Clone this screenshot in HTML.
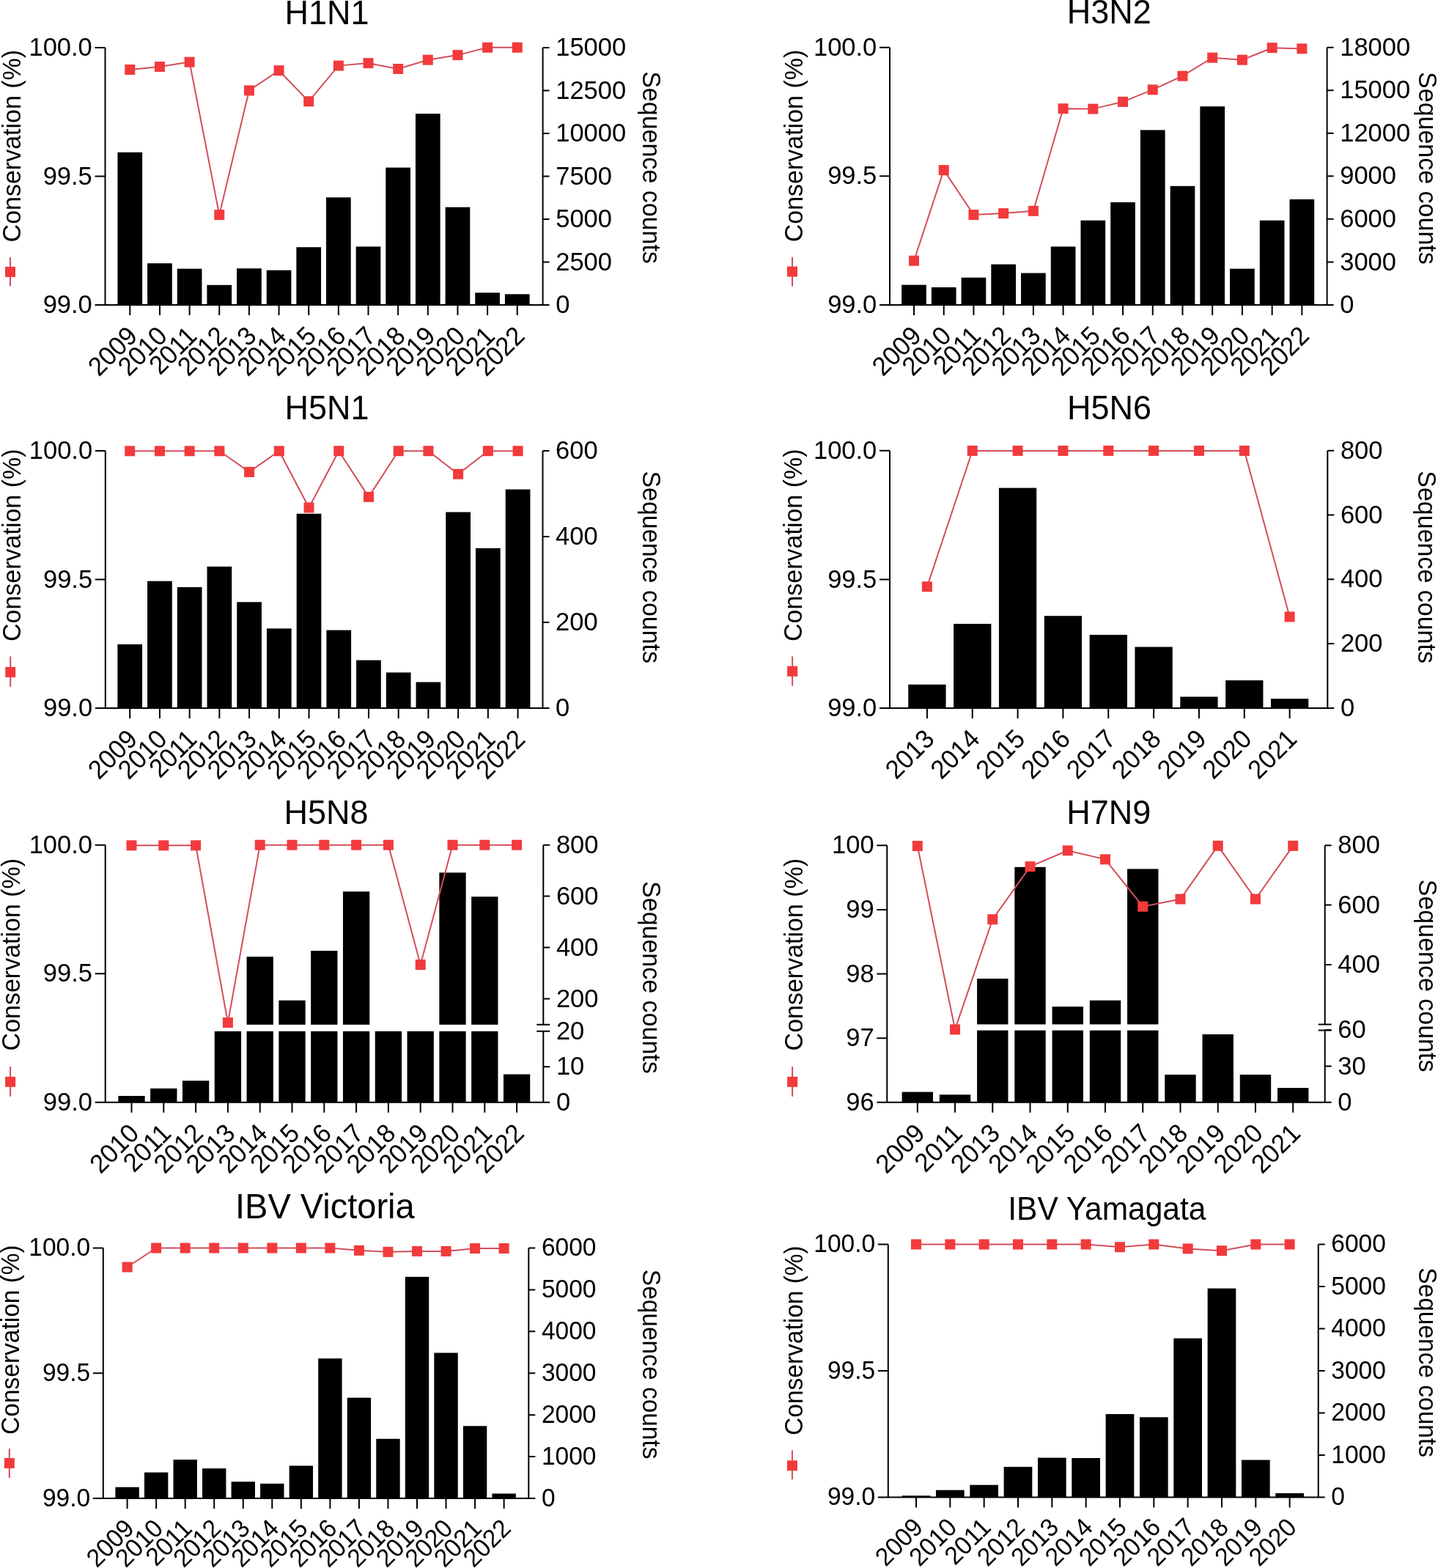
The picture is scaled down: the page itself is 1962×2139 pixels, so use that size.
<!DOCTYPE html>
<html><head><meta charset="utf-8"><title>Conservation and sequence counts</title>
<style>html,body{margin:0;padding:0;background:#fff;overflow:hidden;}svg{display:block;}text{font-family:'Liberation Sans', Arial, Helvetica, sans-serif;fill:#000;}</style>
</head><body>
<svg width="1962" height="2139" viewBox="0 0 1962 2139">
<rect width="1962" height="2139" fill="#fff"/>
<rect x="160.45" y="207.8" width="33.7" height="208.2"/>
<rect x="201.1" y="359.2" width="33.7" height="56.8"/>
<rect x="241.75" y="366.6" width="33.7" height="49.4"/>
<rect x="282.4" y="388.8" width="33.7" height="27.2"/>
<rect x="323.05" y="366.2" width="33.7" height="49.8"/>
<rect x="363.7" y="368.6" width="33.7" height="47.4"/>
<rect x="404.35" y="337.2" width="33.7" height="78.8"/>
<rect x="445" y="269.3" width="33.7" height="146.7"/>
<rect x="485.65" y="336.4" width="33.7" height="79.6"/>
<rect x="526.3" y="228.6" width="33.7" height="187.4"/>
<rect x="566.95" y="155.1" width="33.7" height="260.9"/>
<rect x="607.6" y="282.6" width="33.7" height="133.4"/>
<rect x="648.25" y="399.3" width="33.7" height="16.7"/>
<rect x="688.9" y="401.3" width="33.7" height="14.7"/>
<path d="M143.5 65V416M129.5 65H143.5M129.5 240.5H143.5M129.5 416H143.5M129.5 416H749.6M740.6 65V416M740.6 416H749.6M740.6 357.5H749.6M740.6 299H749.6M740.6 240.5H749.6M740.6 182H749.6M740.6 123.5H749.6M740.6 65H749.6M177.3 416v14M217.95 416v14M258.6 416v14M299.25 416v14M339.9 416v14M380.55 416v14M421.2 416v14M461.85 416v14M502.5 416v14M543.15 416v14M583.8 416v14M624.45 416v14M665.1 416v14M705.75 416v14" fill="none" stroke="#000" stroke-width="2"/>
<polyline points="177.3,95 217.95,91 258.6,84.7 299.25,293.1 339.9,123.4 380.55,96.2 421.2,138.3 461.85,89.6 502.5,86.1 543.15,94 583.8,81.7 624.45,75.1 665.1,64.8 705.75,64.8" fill="none" stroke="#D24E5A" stroke-width="2"/>
<rect x="170.3" y="88" width="14" height="14" fill="#F23A3C"/>
<rect x="210.95" y="84" width="14" height="14" fill="#F23A3C"/>
<rect x="251.6" y="77.7" width="14" height="14" fill="#F23A3C"/>
<rect x="292.25" y="286.1" width="14" height="14" fill="#F23A3C"/>
<rect x="332.9" y="116.4" width="14" height="14" fill="#F23A3C"/>
<rect x="373.55" y="89.2" width="14" height="14" fill="#F23A3C"/>
<rect x="414.2" y="131.3" width="14" height="14" fill="#F23A3C"/>
<rect x="454.85" y="82.6" width="14" height="14" fill="#F23A3C"/>
<rect x="495.5" y="79.1" width="14" height="14" fill="#F23A3C"/>
<rect x="536.15" y="87" width="14" height="14" fill="#F23A3C"/>
<rect x="576.8" y="74.7" width="14" height="14" fill="#F23A3C"/>
<rect x="617.45" y="68.1" width="14" height="14" fill="#F23A3C"/>
<rect x="658.1" y="57.8" width="14" height="14" fill="#F23A3C"/>
<rect x="698.75" y="57.8" width="14" height="14" fill="#F23A3C"/>
<text transform="translate(125.8 76.12) scale(1 1.04)" text-anchor="end" font-size="34.5">100.0</text>
<text transform="translate(125.8 251.62) scale(1 1.04)" text-anchor="end" font-size="34.5">99.5</text>
<text transform="translate(125.8 427.12) scale(1 1.04)" text-anchor="end" font-size="34.5">99.0</text>
<text transform="translate(758.2 427.12) scale(1 1.04)" font-size="34.5">0</text>
<text transform="translate(758.2 368.62) scale(1 1.04)" font-size="34.5">2500</text>
<text transform="translate(758.2 310.12) scale(1 1.04)" font-size="34.5">5000</text>
<text transform="translate(758.2 251.62) scale(1 1.04)" font-size="34.5">7500</text>
<text transform="translate(758.2 193.12) scale(1 1.04)" font-size="34.5">10000</text>
<text transform="translate(758.2 134.62) scale(1 1.04)" font-size="34.5">12500</text>
<text transform="translate(758.2 76.12) scale(1 1.04)" font-size="34.5">15000</text>
<text transform="translate(189.3 460.4) rotate(-45) scale(1 1.04)" text-anchor="end" font-size="34.5">2009</text>
<text transform="translate(229.95 460.4) rotate(-45) scale(1 1.04)" text-anchor="end" font-size="34.5">2010</text>
<text transform="translate(270.6 460.4) rotate(-45) scale(1 1.04)" text-anchor="end" font-size="34.5">2011</text>
<text transform="translate(311.25 460.4) rotate(-45) scale(1 1.04)" text-anchor="end" font-size="34.5">2012</text>
<text transform="translate(351.9 460.4) rotate(-45) scale(1 1.04)" text-anchor="end" font-size="34.5">2013</text>
<text transform="translate(392.55 460.4) rotate(-45) scale(1 1.04)" text-anchor="end" font-size="34.5">2014</text>
<text transform="translate(433.2 460.4) rotate(-45) scale(1 1.04)" text-anchor="end" font-size="34.5">2015</text>
<text transform="translate(473.85 460.4) rotate(-45) scale(1 1.04)" text-anchor="end" font-size="34.5">2016</text>
<text transform="translate(514.5 460.4) rotate(-45) scale(1 1.04)" text-anchor="end" font-size="34.5">2017</text>
<text transform="translate(555.15 460.4) rotate(-45) scale(1 1.04)" text-anchor="end" font-size="34.5">2018</text>
<text transform="translate(595.8 460.4) rotate(-45) scale(1 1.04)" text-anchor="end" font-size="34.5">2019</text>
<text transform="translate(636.45 460.4) rotate(-45) scale(1 1.04)" text-anchor="end" font-size="34.5">2020</text>
<text transform="translate(677.1 460.4) rotate(-45) scale(1 1.04)" text-anchor="end" font-size="34.5">2021</text>
<text transform="translate(717.75 460.4) rotate(-45) scale(1 1.04)" text-anchor="end" font-size="34.5">2022</text>
<text transform="translate(388.5 32.5) scale(1 1.04)" font-size="45">H1N1</text>
<text transform="translate(28 330.4) rotate(-90) scale(1 1.04)" font-size="34">Conservation (%)</text>
<path d="M14 350.9V390.4" stroke="#D24E5A" stroke-width="2"/>
<rect x="7" y="363.9" width="14" height="14" fill="#F23A3C"/>
<text transform="translate(876.5 97.2) rotate(90) scale(1 1.04)" font-size="34">Sequence counts</text>
<rect x="1230.15" y="388.6" width="33.7" height="27.3"/>
<rect x="1270.87" y="391.9" width="33.7" height="24"/>
<rect x="1311.59" y="378.7" width="33.7" height="37.2"/>
<rect x="1352.31" y="360.6" width="33.7" height="55.3"/>
<rect x="1393.03" y="372.5" width="33.7" height="43.4"/>
<rect x="1433.75" y="336.4" width="33.7" height="79.5"/>
<rect x="1474.47" y="300.7" width="33.7" height="115.2"/>
<rect x="1515.19" y="275.9" width="33.7" height="140"/>
<rect x="1555.91" y="177.4" width="33.7" height="238.5"/>
<rect x="1596.63" y="253.8" width="33.7" height="162.1"/>
<rect x="1637.35" y="145.2" width="33.7" height="270.7"/>
<rect x="1678.07" y="366.6" width="33.7" height="49.3"/>
<rect x="1718.79" y="300.7" width="33.7" height="115.2"/>
<rect x="1759.51" y="271.9" width="33.7" height="144"/>
<path d="M1214 64.8V415.9M1200 64.8H1214M1200 240.3H1214M1200 415.9H1214M1200 415.9H1819.6M1810.6 64.8V415.9M1810.6 415.9H1819.6M1810.6 357.38H1819.6M1810.6 298.87H1819.6M1810.6 240.35H1819.6M1810.6 181.83H1819.6M1810.6 123.32H1819.6M1810.6 64.8H1819.6M1247 415.9v14M1287.72 415.9v14M1328.44 415.9v14M1369.16 415.9v14M1409.88 415.9v14M1450.6 415.9v14M1491.32 415.9v14M1532.04 415.9v14M1572.76 415.9v14M1613.48 415.9v14M1654.2 415.9v14M1694.92 415.9v14M1735.64 415.9v14M1776.36 415.9v14" fill="none" stroke="#000" stroke-width="2"/>
<polyline points="1247,355.7 1287.72,232.1 1328.44,293 1369.16,291.1 1409.88,287.8 1450.6,148.2 1491.32,148.6 1532.04,138.9 1572.76,122.4 1613.48,103.7 1654.2,78.7 1694.92,81.7 1735.64,65.2 1776.36,66.4" fill="none" stroke="#D24E5A" stroke-width="2"/>
<rect x="1240" y="348.7" width="14" height="14" fill="#F23A3C"/>
<rect x="1280.72" y="225.1" width="14" height="14" fill="#F23A3C"/>
<rect x="1321.44" y="286" width="14" height="14" fill="#F23A3C"/>
<rect x="1362.16" y="284.1" width="14" height="14" fill="#F23A3C"/>
<rect x="1402.88" y="280.8" width="14" height="14" fill="#F23A3C"/>
<rect x="1443.6" y="141.2" width="14" height="14" fill="#F23A3C"/>
<rect x="1484.32" y="141.6" width="14" height="14" fill="#F23A3C"/>
<rect x="1525.04" y="131.9" width="14" height="14" fill="#F23A3C"/>
<rect x="1565.76" y="115.4" width="14" height="14" fill="#F23A3C"/>
<rect x="1606.48" y="96.7" width="14" height="14" fill="#F23A3C"/>
<rect x="1647.2" y="71.7" width="14" height="14" fill="#F23A3C"/>
<rect x="1687.92" y="74.7" width="14" height="14" fill="#F23A3C"/>
<rect x="1728.64" y="58.2" width="14" height="14" fill="#F23A3C"/>
<rect x="1769.36" y="59.4" width="14" height="14" fill="#F23A3C"/>
<text transform="translate(1196.3 75.92) scale(1 1.04)" text-anchor="end" font-size="34.5">100.0</text>
<text transform="translate(1196.3 251.42) scale(1 1.04)" text-anchor="end" font-size="34.5">99.5</text>
<text transform="translate(1196.3 427.02) scale(1 1.04)" text-anchor="end" font-size="34.5">99.0</text>
<text transform="translate(1828.2 427.02) scale(1 1.04)" font-size="34.5">0</text>
<text transform="translate(1828.2 368.51) scale(1 1.04)" font-size="34.5">3000</text>
<text transform="translate(1828.2 309.99) scale(1 1.04)" font-size="34.5">6000</text>
<text transform="translate(1828.2 251.47) scale(1 1.04)" font-size="34.5">9000</text>
<text transform="translate(1828.2 192.96) scale(1 1.04)" font-size="34.5">12000</text>
<text transform="translate(1828.2 134.44) scale(1 1.04)" font-size="34.5">15000</text>
<text transform="translate(1828.2 75.92) scale(1 1.04)" font-size="34.5">18000</text>
<text transform="translate(1259 460.3) rotate(-45) scale(1 1.04)" text-anchor="end" font-size="34.5">2009</text>
<text transform="translate(1299.72 460.3) rotate(-45) scale(1 1.04)" text-anchor="end" font-size="34.5">2010</text>
<text transform="translate(1340.44 460.3) rotate(-45) scale(1 1.04)" text-anchor="end" font-size="34.5">2011</text>
<text transform="translate(1381.16 460.3) rotate(-45) scale(1 1.04)" text-anchor="end" font-size="34.5">2012</text>
<text transform="translate(1421.88 460.3) rotate(-45) scale(1 1.04)" text-anchor="end" font-size="34.5">2013</text>
<text transform="translate(1462.6 460.3) rotate(-45) scale(1 1.04)" text-anchor="end" font-size="34.5">2014</text>
<text transform="translate(1503.32 460.3) rotate(-45) scale(1 1.04)" text-anchor="end" font-size="34.5">2015</text>
<text transform="translate(1544.04 460.3) rotate(-45) scale(1 1.04)" text-anchor="end" font-size="34.5">2016</text>
<text transform="translate(1584.76 460.3) rotate(-45) scale(1 1.04)" text-anchor="end" font-size="34.5">2017</text>
<text transform="translate(1625.48 460.3) rotate(-45) scale(1 1.04)" text-anchor="end" font-size="34.5">2018</text>
<text transform="translate(1666.2 460.3) rotate(-45) scale(1 1.04)" text-anchor="end" font-size="34.5">2019</text>
<text transform="translate(1706.92 460.3) rotate(-45) scale(1 1.04)" text-anchor="end" font-size="34.5">2020</text>
<text transform="translate(1747.64 460.3) rotate(-45) scale(1 1.04)" text-anchor="end" font-size="34.5">2021</text>
<text transform="translate(1788.36 460.3) rotate(-45) scale(1 1.04)" text-anchor="end" font-size="34.5">2022</text>
<text transform="translate(1455.8 32.3) scale(1 1.04)" font-size="45">H3N2</text>
<text transform="translate(1095 330.3) rotate(-90) scale(1 1.04)" font-size="34">Conservation (%)</text>
<path d="M1081 350.7V390.5" stroke="#D24E5A" stroke-width="2"/>
<rect x="1074" y="363.5" width="14" height="14" fill="#F23A3C"/>
<text transform="translate(1936 98.1) rotate(90) scale(1 1.04)" font-size="34">Sequence counts</text>
<rect x="160.35" y="879" width="33.7" height="87"/>
<rect x="201.07" y="792.7" width="33.7" height="173.3"/>
<rect x="241.79" y="801" width="33.7" height="165"/>
<rect x="282.51" y="772.9" width="33.7" height="193.1"/>
<rect x="323.23" y="821.3" width="33.7" height="144.7"/>
<rect x="363.95" y="857.4" width="33.7" height="108.6"/>
<rect x="404.67" y="700.8" width="33.7" height="265.2"/>
<rect x="445.39" y="859.6" width="33.7" height="106.4"/>
<rect x="486.11" y="900.6" width="33.7" height="65.4"/>
<rect x="526.83" y="917.4" width="33.7" height="48.6"/>
<rect x="567.55" y="930.5" width="33.7" height="35.5"/>
<rect x="608.27" y="698.6" width="33.7" height="267.4"/>
<rect x="648.99" y="747.8" width="33.7" height="218.2"/>
<rect x="689.71" y="667.6" width="33.7" height="298.4"/>
<path d="M143.8 615V966M129.8 615H143.8M129.8 790.5H143.8M129.8 966H143.8M129.8 966H749.5M740.5 615V966M740.5 966H749.5M740.5 849H749.5M740.5 732H749.5M740.5 615H749.5M177.2 966v14M217.92 966v14M258.64 966v14M299.36 966v14M340.08 966v14M380.8 966v14M421.52 966v14M462.24 966v14M502.96 966v14M543.68 966v14M584.4 966v14M625.12 966v14M665.84 966v14M706.56 966v14" fill="none" stroke="#000" stroke-width="2"/>
<polyline points="177.2,615.3 217.92,615.3 258.64,615.3 299.36,615.3 340.08,643.9 380.8,615.3 421.52,692.5 462.24,615.2 502.96,677.9 543.68,615.2 584.4,615.2 625.12,646.7 665.84,615.2 706.56,615.2" fill="none" stroke="#D24E5A" stroke-width="2"/>
<rect x="170.2" y="608.3" width="14" height="14" fill="#F23A3C"/>
<rect x="210.92" y="608.3" width="14" height="14" fill="#F23A3C"/>
<rect x="251.64" y="608.3" width="14" height="14" fill="#F23A3C"/>
<rect x="292.36" y="608.3" width="14" height="14" fill="#F23A3C"/>
<rect x="333.08" y="636.9" width="14" height="14" fill="#F23A3C"/>
<rect x="373.8" y="608.3" width="14" height="14" fill="#F23A3C"/>
<rect x="414.52" y="685.5" width="14" height="14" fill="#F23A3C"/>
<rect x="455.24" y="608.2" width="14" height="14" fill="#F23A3C"/>
<rect x="495.96" y="670.9" width="14" height="14" fill="#F23A3C"/>
<rect x="536.68" y="608.2" width="14" height="14" fill="#F23A3C"/>
<rect x="577.4" y="608.2" width="14" height="14" fill="#F23A3C"/>
<rect x="618.12" y="639.7" width="14" height="14" fill="#F23A3C"/>
<rect x="658.84" y="608.2" width="14" height="14" fill="#F23A3C"/>
<rect x="699.56" y="608.2" width="14" height="14" fill="#F23A3C"/>
<text transform="translate(126.1 626.12) scale(1 1.04)" text-anchor="end" font-size="34.5">100.0</text>
<text transform="translate(126.1 801.62) scale(1 1.04)" text-anchor="end" font-size="34.5">99.5</text>
<text transform="translate(126.1 977.12) scale(1 1.04)" text-anchor="end" font-size="34.5">99.0</text>
<text transform="translate(758.1 977.12) scale(1 1.04)" font-size="34.5">0</text>
<text transform="translate(758.1 860.12) scale(1 1.04)" font-size="34.5">200</text>
<text transform="translate(758.1 743.12) scale(1 1.04)" font-size="34.5">400</text>
<text transform="translate(758.1 626.12) scale(1 1.04)" font-size="34.5">600</text>
<text transform="translate(189.2 1010.4) rotate(-45) scale(1 1.04)" text-anchor="end" font-size="34.5">2009</text>
<text transform="translate(229.92 1010.4) rotate(-45) scale(1 1.04)" text-anchor="end" font-size="34.5">2010</text>
<text transform="translate(270.64 1010.4) rotate(-45) scale(1 1.04)" text-anchor="end" font-size="34.5">2011</text>
<text transform="translate(311.36 1010.4) rotate(-45) scale(1 1.04)" text-anchor="end" font-size="34.5">2012</text>
<text transform="translate(352.08 1010.4) rotate(-45) scale(1 1.04)" text-anchor="end" font-size="34.5">2013</text>
<text transform="translate(392.8 1010.4) rotate(-45) scale(1 1.04)" text-anchor="end" font-size="34.5">2014</text>
<text transform="translate(433.52 1010.4) rotate(-45) scale(1 1.04)" text-anchor="end" font-size="34.5">2015</text>
<text transform="translate(474.24 1010.4) rotate(-45) scale(1 1.04)" text-anchor="end" font-size="34.5">2016</text>
<text transform="translate(514.96 1010.4) rotate(-45) scale(1 1.04)" text-anchor="end" font-size="34.5">2017</text>
<text transform="translate(555.68 1010.4) rotate(-45) scale(1 1.04)" text-anchor="end" font-size="34.5">2018</text>
<text transform="translate(596.4 1010.4) rotate(-45) scale(1 1.04)" text-anchor="end" font-size="34.5">2019</text>
<text transform="translate(637.12 1010.4) rotate(-45) scale(1 1.04)" text-anchor="end" font-size="34.5">2020</text>
<text transform="translate(677.84 1010.4) rotate(-45) scale(1 1.04)" text-anchor="end" font-size="34.5">2021</text>
<text transform="translate(718.56 1010.4) rotate(-45) scale(1 1.04)" text-anchor="end" font-size="34.5">2022</text>
<text transform="translate(388.6 572) scale(1 1.04)" font-size="45">H5N1</text>
<text transform="translate(27.5 875) rotate(-90) scale(1 1.04)" font-size="34">Conservation (%)</text>
<path d="M14.2 895.4V936.9" stroke="#D24E5A" stroke-width="2"/>
<rect x="7.2" y="909.9" width="14" height="14" fill="#F23A3C"/>
<text transform="translate(876.7 642.4) rotate(90) scale(1 1.04)" font-size="34">Sequence counts</text>
<rect x="1239.25" y="933.8" width="51.3" height="32.1"/>
<rect x="1301.09" y="851" width="51.3" height="114.9"/>
<rect x="1362.93" y="665.6" width="51.3" height="300.3"/>
<rect x="1424.77" y="840.2" width="51.3" height="125.7"/>
<rect x="1486.61" y="866" width="51.3" height="99.9"/>
<rect x="1548.45" y="882.5" width="51.3" height="83.4"/>
<rect x="1610.29" y="950.5" width="51.3" height="15.4"/>
<rect x="1672.13" y="928.1" width="51.3" height="37.8"/>
<rect x="1733.97" y="953.2" width="51.3" height="12.7"/>
<path d="M1214 614.8V965.9M1200 614.8H1214M1200 790.4H1214M1200 965.9H1214M1200 965.9H1820.3M1811.3 614.8V965.9M1811.3 965.9H1820.3M1811.3 878.12H1820.3M1811.3 790.35H1820.3M1811.3 702.58H1820.3M1811.3 614.8H1820.3M1264.9 965.9v14M1326.74 965.9v14M1388.58 965.9v14M1450.42 965.9v14M1512.26 965.9v14M1574.1 965.9v14M1635.94 965.9v14M1697.78 965.9v14M1759.62 965.9v14" fill="none" stroke="#000" stroke-width="2"/>
<polyline points="1264.9,800.3 1326.74,614.9 1388.58,614.9 1450.42,614.9 1512.26,614.9 1574.1,614.9 1635.94,614.9 1697.78,614.9 1759.62,841.4" fill="none" stroke="#D24E5A" stroke-width="2"/>
<rect x="1257.9" y="793.3" width="14" height="14" fill="#F23A3C"/>
<rect x="1319.74" y="607.9" width="14" height="14" fill="#F23A3C"/>
<rect x="1381.58" y="607.9" width="14" height="14" fill="#F23A3C"/>
<rect x="1443.42" y="607.9" width="14" height="14" fill="#F23A3C"/>
<rect x="1505.26" y="607.9" width="14" height="14" fill="#F23A3C"/>
<rect x="1567.1" y="607.9" width="14" height="14" fill="#F23A3C"/>
<rect x="1628.94" y="607.9" width="14" height="14" fill="#F23A3C"/>
<rect x="1690.78" y="607.9" width="14" height="14" fill="#F23A3C"/>
<rect x="1752.62" y="834.4" width="14" height="14" fill="#F23A3C"/>
<text transform="translate(1196.3 625.92) scale(1 1.04)" text-anchor="end" font-size="34.5">100.0</text>
<text transform="translate(1196.3 801.52) scale(1 1.04)" text-anchor="end" font-size="34.5">99.5</text>
<text transform="translate(1196.3 977.02) scale(1 1.04)" text-anchor="end" font-size="34.5">99.0</text>
<text transform="translate(1828.9 977.02) scale(1 1.04)" font-size="34.5">0</text>
<text transform="translate(1828.9 889.25) scale(1 1.04)" font-size="34.5">200</text>
<text transform="translate(1828.9 801.47) scale(1 1.04)" font-size="34.5">400</text>
<text transform="translate(1828.9 713.7) scale(1 1.04)" font-size="34.5">600</text>
<text transform="translate(1828.9 625.92) scale(1 1.04)" font-size="34.5">800</text>
<text transform="translate(1276.9 1010.3) rotate(-45) scale(1 1.04)" text-anchor="end" font-size="34.5">2013</text>
<text transform="translate(1338.74 1010.3) rotate(-45) scale(1 1.04)" text-anchor="end" font-size="34.5">2014</text>
<text transform="translate(1400.58 1010.3) rotate(-45) scale(1 1.04)" text-anchor="end" font-size="34.5">2015</text>
<text transform="translate(1462.42 1010.3) rotate(-45) scale(1 1.04)" text-anchor="end" font-size="34.5">2016</text>
<text transform="translate(1524.26 1010.3) rotate(-45) scale(1 1.04)" text-anchor="end" font-size="34.5">2017</text>
<text transform="translate(1586.1 1010.3) rotate(-45) scale(1 1.04)" text-anchor="end" font-size="34.5">2018</text>
<text transform="translate(1647.94 1010.3) rotate(-45) scale(1 1.04)" text-anchor="end" font-size="34.5">2019</text>
<text transform="translate(1709.78 1010.3) rotate(-45) scale(1 1.04)" text-anchor="end" font-size="34.5">2020</text>
<text transform="translate(1771.62 1010.3) rotate(-45) scale(1 1.04)" text-anchor="end" font-size="34.5">2021</text>
<text transform="translate(1456.1 572.4) scale(1 1.04)" font-size="45">H5N6</text>
<text transform="translate(1094 875) rotate(-90) scale(1 1.04)" font-size="34">Conservation (%)</text>
<path d="M1081.1 895.4V935.8" stroke="#D24E5A" stroke-width="2"/>
<rect x="1074.1" y="908.7" width="14" height="14" fill="#F23A3C"/>
<text transform="translate(1935.4 642.3) rotate(90) scale(1 1.04)" font-size="34">Sequence counts</text>
<rect x="161.35" y="1495" width="36.3" height="8.8"/>
<rect x="205.15" y="1484.8" width="36.3" height="19"/>
<rect x="248.95" y="1474.3" width="36.3" height="29.5"/>
<rect x="292.75" y="1406.8" width="36.3" height="97"/>
<rect x="336.55" y="1406.8" width="36.3" height="97"/>
<rect x="336.55" y="1305.1" width="36.3" height="92.7"/>
<rect x="380.35" y="1406.8" width="36.3" height="97"/>
<rect x="380.35" y="1364.7" width="36.3" height="33.1"/>
<rect x="424.15" y="1406.8" width="36.3" height="97"/>
<rect x="424.15" y="1297" width="36.3" height="100.8"/>
<rect x="467.95" y="1406.8" width="36.3" height="97"/>
<rect x="467.95" y="1216.2" width="36.3" height="181.6"/>
<rect x="511.75" y="1406.8" width="36.3" height="97"/>
<rect x="555.55" y="1406.8" width="36.3" height="97"/>
<rect x="599.35" y="1406.8" width="36.3" height="97"/>
<rect x="599.35" y="1190.4" width="36.3" height="207.4"/>
<rect x="643.15" y="1406.8" width="36.3" height="97"/>
<rect x="643.15" y="1223.2" width="36.3" height="174.6"/>
<rect x="686.95" y="1465.5" width="36.3" height="38.3"/>
<path d="M143.7 1152.7V1503.8M129.7 1152.7H143.7M129.7 1328.2H143.7M129.7 1503.8H143.7M129.7 1503.8H750.3M741.3 1152.7V1397.8M741.3 1406.8V1503.8M732.3 1397.8H750.3M732.3 1406.8H750.3M741.3 1152.7H750.3M741.3 1222.5H750.3M741.3 1292.5H750.3M741.3 1362.6H750.3M741.3 1406.8H750.3M741.3 1455.3H750.3M741.3 1503.8H750.3M179.5 1503.8v14M223.3 1503.8v14M267.1 1503.8v14M310.9 1503.8v14M354.7 1503.8v14M398.5 1503.8v14M442.3 1503.8v14M486.1 1503.8v14M529.9 1503.8v14M573.7 1503.8v14M617.5 1503.8v14M661.3 1503.8v14M705.1 1503.8v14" fill="none" stroke="#000" stroke-width="2"/>
<polyline points="179.5,1153.3 223.3,1153.3 267.1,1153.3 310.9,1395 354.7,1152.7 398.5,1152.7 442.3,1152.7 486.1,1152.7 529.9,1152.7 573.7,1316 617.5,1152.7 661.3,1152.7 705.1,1152.7" fill="none" stroke="#D24E5A" stroke-width="2"/>
<rect x="172.5" y="1146.3" width="14" height="14" fill="#F23A3C"/>
<rect x="216.3" y="1146.3" width="14" height="14" fill="#F23A3C"/>
<rect x="260.1" y="1146.3" width="14" height="14" fill="#F23A3C"/>
<rect x="303.9" y="1388" width="14" height="14" fill="#F23A3C"/>
<rect x="347.7" y="1145.7" width="14" height="14" fill="#F23A3C"/>
<rect x="391.5" y="1145.7" width="14" height="14" fill="#F23A3C"/>
<rect x="435.3" y="1145.7" width="14" height="14" fill="#F23A3C"/>
<rect x="479.1" y="1145.7" width="14" height="14" fill="#F23A3C"/>
<rect x="522.9" y="1145.7" width="14" height="14" fill="#F23A3C"/>
<rect x="566.7" y="1309" width="14" height="14" fill="#F23A3C"/>
<rect x="610.5" y="1145.7" width="14" height="14" fill="#F23A3C"/>
<rect x="654.3" y="1145.7" width="14" height="14" fill="#F23A3C"/>
<rect x="698.1" y="1145.7" width="14" height="14" fill="#F23A3C"/>
<text transform="translate(126 1163.82) scale(1 1.04)" text-anchor="end" font-size="34.5">100.0</text>
<text transform="translate(126 1339.32) scale(1 1.04)" text-anchor="end" font-size="34.5">99.5</text>
<text transform="translate(126 1514.92) scale(1 1.04)" text-anchor="end" font-size="34.5">99.0</text>
<text transform="translate(758.9 1163.82) scale(1 1.04)" font-size="34.5">800</text>
<text transform="translate(758.9 1233.62) scale(1 1.04)" font-size="34.5">600</text>
<text transform="translate(758.9 1303.62) scale(1 1.04)" font-size="34.5">400</text>
<text transform="translate(758.9 1373.72) scale(1 1.04)" font-size="34.5">200</text>
<text transform="translate(758.9 1417.92) scale(1 1.04)" font-size="34.5">20</text>
<text transform="translate(758.9 1466.42) scale(1 1.04)" font-size="34.5">10</text>
<text transform="translate(758.9 1514.92) scale(1 1.04)" font-size="34.5">0</text>
<text transform="translate(191.5 1548.2) rotate(-45) scale(1 1.04)" text-anchor="end" font-size="34.5">2010</text>
<text transform="translate(235.3 1548.2) rotate(-45) scale(1 1.04)" text-anchor="end" font-size="34.5">2011</text>
<text transform="translate(279.1 1548.2) rotate(-45) scale(1 1.04)" text-anchor="end" font-size="34.5">2012</text>
<text transform="translate(322.9 1548.2) rotate(-45) scale(1 1.04)" text-anchor="end" font-size="34.5">2013</text>
<text transform="translate(366.7 1548.2) rotate(-45) scale(1 1.04)" text-anchor="end" font-size="34.5">2014</text>
<text transform="translate(410.5 1548.2) rotate(-45) scale(1 1.04)" text-anchor="end" font-size="34.5">2015</text>
<text transform="translate(454.3 1548.2) rotate(-45) scale(1 1.04)" text-anchor="end" font-size="34.5">2016</text>
<text transform="translate(498.1 1548.2) rotate(-45) scale(1 1.04)" text-anchor="end" font-size="34.5">2017</text>
<text transform="translate(541.9 1548.2) rotate(-45) scale(1 1.04)" text-anchor="end" font-size="34.5">2018</text>
<text transform="translate(585.7 1548.2) rotate(-45) scale(1 1.04)" text-anchor="end" font-size="34.5">2019</text>
<text transform="translate(629.5 1548.2) rotate(-45) scale(1 1.04)" text-anchor="end" font-size="34.5">2020</text>
<text transform="translate(673.3 1548.2) rotate(-45) scale(1 1.04)" text-anchor="end" font-size="34.5">2021</text>
<text transform="translate(717.1 1548.2) rotate(-45) scale(1 1.04)" text-anchor="end" font-size="34.5">2022</text>
<text transform="translate(387.6 1124.4) scale(1 1.04)" font-size="45">H5N8</text>
<text transform="translate(27 1433.4) rotate(-90) scale(1 1.04)" font-size="34">Conservation (%)</text>
<path d="M14.1 1454.9V1495.8" stroke="#D24E5A" stroke-width="2"/>
<rect x="7.1" y="1468.8" width="14" height="14" fill="#F23A3C"/>
<text transform="translate(876.7 1202.1) rotate(90) scale(1 1.04)" font-size="34">Sequence counts</text>
<rect x="1230.6" y="1489.6" width="42.4" height="14.2"/>
<rect x="1281.84" y="1493.3" width="42.4" height="10.5"/>
<rect x="1333.08" y="1405.6" width="42.4" height="98.2"/>
<rect x="1333.08" y="1335" width="42.4" height="62.4"/>
<rect x="1384.32" y="1405.6" width="42.4" height="98.2"/>
<rect x="1384.32" y="1182.8" width="42.4" height="214.6"/>
<rect x="1435.56" y="1405.6" width="42.4" height="98.2"/>
<rect x="1435.56" y="1373.2" width="42.4" height="24.2"/>
<rect x="1486.8" y="1405.6" width="42.4" height="98.2"/>
<rect x="1486.8" y="1364.7" width="42.4" height="32.7"/>
<rect x="1538.04" y="1405.6" width="42.4" height="98.2"/>
<rect x="1538.04" y="1185.4" width="42.4" height="212"/>
<rect x="1589.28" y="1466" width="42.4" height="37.8"/>
<rect x="1640.52" y="1411" width="42.4" height="92.8"/>
<rect x="1691.76" y="1466" width="42.4" height="37.8"/>
<rect x="1743" y="1484.1" width="42.4" height="19.7"/>
<path d="M1210.3 1153.3V1503.8M1196.3 1153.3H1210.3M1196.3 1240.9H1210.3M1196.3 1328.5H1210.3M1196.3 1416.2H1210.3M1196.3 1503.8H1210.3M1196.3 1503.8H1816.7M1807.7 1153.3V1397.4M1807.7 1405.6V1503.8M1798.7 1397.4H1816.7M1798.7 1405.6H1816.7M1807.7 1153.3H1816.7M1807.7 1234.5H1816.7M1807.7 1315.9H1816.7M1807.7 1405H1816.7M1807.7 1454.5H1816.7M1807.7 1503.8H1816.7M1251.8 1503.8v14M1303.04 1503.8v14M1354.28 1503.8v14M1405.52 1503.8v14M1456.76 1503.8v14M1508 1503.8v14M1559.24 1503.8v14M1610.48 1503.8v14M1661.72 1503.8v14M1712.96 1503.8v14M1764.2 1503.8v14" fill="none" stroke="#000" stroke-width="2"/>
<polyline points="1251.8,1154 1303.04,1404.4 1354.28,1254.2 1405.52,1182.1 1456.76,1160.3 1508,1172.3 1559.24,1236.7 1610.48,1226.5 1661.72,1153.8 1712.96,1226.5 1764.2,1153.8" fill="none" stroke="#D24E5A" stroke-width="2"/>
<rect x="1244.8" y="1147" width="14" height="14" fill="#F23A3C"/>
<rect x="1296.04" y="1397.4" width="14" height="14" fill="#F23A3C"/>
<rect x="1347.28" y="1247.2" width="14" height="14" fill="#F23A3C"/>
<rect x="1398.52" y="1175.1" width="14" height="14" fill="#F23A3C"/>
<rect x="1449.76" y="1153.3" width="14" height="14" fill="#F23A3C"/>
<rect x="1501" y="1165.3" width="14" height="14" fill="#F23A3C"/>
<rect x="1552.24" y="1229.7" width="14" height="14" fill="#F23A3C"/>
<rect x="1603.48" y="1219.5" width="14" height="14" fill="#F23A3C"/>
<rect x="1654.72" y="1146.8" width="14" height="14" fill="#F23A3C"/>
<rect x="1705.96" y="1219.5" width="14" height="14" fill="#F23A3C"/>
<rect x="1757.2" y="1146.8" width="14" height="14" fill="#F23A3C"/>
<text transform="translate(1192.6 1164.42) scale(1 1.04)" text-anchor="end" font-size="34.5">100</text>
<text transform="translate(1192.6 1252.02) scale(1 1.04)" text-anchor="end" font-size="34.5">99</text>
<text transform="translate(1192.6 1339.62) scale(1 1.04)" text-anchor="end" font-size="34.5">98</text>
<text transform="translate(1192.6 1427.32) scale(1 1.04)" text-anchor="end" font-size="34.5">97</text>
<text transform="translate(1192.6 1514.92) scale(1 1.04)" text-anchor="end" font-size="34.5">96</text>
<text transform="translate(1825.3 1164.42) scale(1 1.04)" font-size="34.5">800</text>
<text transform="translate(1825.3 1245.62) scale(1 1.04)" font-size="34.5">600</text>
<text transform="translate(1825.3 1327.02) scale(1 1.04)" font-size="34.5">400</text>
<text transform="translate(1825.3 1416.12) scale(1 1.04)" font-size="34.5">60</text>
<text transform="translate(1825.3 1465.62) scale(1 1.04)" font-size="34.5">30</text>
<text transform="translate(1825.3 1514.92) scale(1 1.04)" font-size="34.5">0</text>
<text transform="translate(1263.8 1548.2) rotate(-45) scale(1 1.04)" text-anchor="end" font-size="34.5">2009</text>
<text transform="translate(1315.04 1548.2) rotate(-45) scale(1 1.04)" text-anchor="end" font-size="34.5">2011</text>
<text transform="translate(1366.28 1548.2) rotate(-45) scale(1 1.04)" text-anchor="end" font-size="34.5">2013</text>
<text transform="translate(1417.52 1548.2) rotate(-45) scale(1 1.04)" text-anchor="end" font-size="34.5">2014</text>
<text transform="translate(1468.76 1548.2) rotate(-45) scale(1 1.04)" text-anchor="end" font-size="34.5">2015</text>
<text transform="translate(1520 1548.2) rotate(-45) scale(1 1.04)" text-anchor="end" font-size="34.5">2016</text>
<text transform="translate(1571.24 1548.2) rotate(-45) scale(1 1.04)" text-anchor="end" font-size="34.5">2017</text>
<text transform="translate(1622.48 1548.2) rotate(-45) scale(1 1.04)" text-anchor="end" font-size="34.5">2018</text>
<text transform="translate(1673.72 1548.2) rotate(-45) scale(1 1.04)" text-anchor="end" font-size="34.5">2019</text>
<text transform="translate(1724.96 1548.2) rotate(-45) scale(1 1.04)" text-anchor="end" font-size="34.5">2020</text>
<text transform="translate(1776.2 1548.2) rotate(-45) scale(1 1.04)" text-anchor="end" font-size="34.5">2021</text>
<text transform="translate(1455.3 1124.3) scale(1 1.04)" font-size="45">H7N9</text>
<text transform="translate(1095 1433.4) rotate(-90) scale(1 1.04)" font-size="34">Conservation (%)</text>
<path d="M1081.1 1454.9V1495.8" stroke="#D24E5A" stroke-width="2"/>
<rect x="1074.1" y="1468.8" width="14" height="14" fill="#F23A3C"/>
<text transform="translate(1935.8 1199.8) rotate(90) scale(1 1.04)" font-size="34">Sequence counts</text>
<rect x="157.4" y="2028.7" width="32.4" height="15.3"/>
<rect x="196.94" y="2008.6" width="32.4" height="35.4"/>
<rect x="236.48" y="1991.2" width="32.4" height="52.8"/>
<rect x="276.02" y="2003.2" width="32.4" height="40.8"/>
<rect x="315.56" y="2021.3" width="32.4" height="22.7"/>
<rect x="355.1" y="2023.9" width="32.4" height="20.1"/>
<rect x="394.64" y="1999.5" width="32.4" height="44.5"/>
<rect x="434.18" y="1853.2" width="32.4" height="190.8"/>
<rect x="473.72" y="1906.7" width="32.4" height="137.3"/>
<rect x="513.26" y="1962.8" width="32.4" height="81.2"/>
<rect x="552.8" y="1741.8" width="32.4" height="302.2"/>
<rect x="592.34" y="1845.5" width="32.4" height="198.5"/>
<rect x="631.88" y="1945.3" width="32.4" height="98.7"/>
<rect x="671.42" y="2037.5" width="32.4" height="6.5"/>
<path d="M140.8 1702.5V2044M126.8 1702.5H140.8M126.8 1873.3H140.8M126.8 2044H140.8M126.8 2044H730.3M721.3 1702.5V2044M721.3 2044H730.3M721.3 1987.08H730.3M721.3 1930.17H730.3M721.3 1873.25H730.3M721.3 1816.33H730.3M721.3 1759.42H730.3M721.3 1702.5H730.3M173.6 2044v14M213.14 2044v14M252.68 2044v14M292.22 2044v14M331.76 2044v14M371.3 2044v14M410.84 2044v14M450.38 2044v14M489.92 2044v14M529.46 2044v14M569 2044v14M608.54 2044v14M648.08 2044v14M687.62 2044v14" fill="none" stroke="#000" stroke-width="2"/>
<polyline points="173.6,1728.5 213.14,1702.5 252.68,1702.5 292.22,1702.5 331.76,1702.5 371.3,1702.5 410.84,1702.5 450.38,1702.5 489.92,1705.8 529.46,1707.8 569,1706.9 608.54,1706.9 648.08,1703 687.62,1703" fill="none" stroke="#D24E5A" stroke-width="2"/>
<rect x="166.6" y="1721.5" width="14" height="14" fill="#F23A3C"/>
<rect x="206.14" y="1695.5" width="14" height="14" fill="#F23A3C"/>
<rect x="245.68" y="1695.5" width="14" height="14" fill="#F23A3C"/>
<rect x="285.22" y="1695.5" width="14" height="14" fill="#F23A3C"/>
<rect x="324.76" y="1695.5" width="14" height="14" fill="#F23A3C"/>
<rect x="364.3" y="1695.5" width="14" height="14" fill="#F23A3C"/>
<rect x="403.84" y="1695.5" width="14" height="14" fill="#F23A3C"/>
<rect x="443.38" y="1695.5" width="14" height="14" fill="#F23A3C"/>
<rect x="482.92" y="1698.8" width="14" height="14" fill="#F23A3C"/>
<rect x="522.46" y="1700.8" width="14" height="14" fill="#F23A3C"/>
<rect x="562" y="1699.9" width="14" height="14" fill="#F23A3C"/>
<rect x="601.54" y="1699.9" width="14" height="14" fill="#F23A3C"/>
<rect x="641.08" y="1696" width="14" height="14" fill="#F23A3C"/>
<rect x="680.62" y="1696" width="14" height="14" fill="#F23A3C"/>
<text transform="translate(123.1 1713.3) scale(1 1.04)" text-anchor="end" font-size="33.5">100.0</text>
<text transform="translate(123.1 1884.1) scale(1 1.04)" text-anchor="end" font-size="33.5">99.5</text>
<text transform="translate(123.1 2054.8) scale(1 1.04)" text-anchor="end" font-size="33.5">99.0</text>
<text transform="translate(738.9 2054.8) scale(1 1.04)" font-size="33.5">0</text>
<text transform="translate(738.9 1997.88) scale(1 1.04)" font-size="33.5">1000</text>
<text transform="translate(738.9 1940.97) scale(1 1.04)" font-size="33.5">2000</text>
<text transform="translate(738.9 1884.05) scale(1 1.04)" font-size="33.5">3000</text>
<text transform="translate(738.9 1827.13) scale(1 1.04)" font-size="33.5">4000</text>
<text transform="translate(738.9 1770.22) scale(1 1.04)" font-size="33.5">5000</text>
<text transform="translate(738.9 1713.3) scale(1 1.04)" font-size="33.5">6000</text>
<text transform="translate(184.8 2087) rotate(-45) scale(1 1.04)" text-anchor="end" font-size="33.5">2009</text>
<text transform="translate(224.34 2087) rotate(-45) scale(1 1.04)" text-anchor="end" font-size="33.5">2010</text>
<text transform="translate(263.88 2087) rotate(-45) scale(1 1.04)" text-anchor="end" font-size="33.5">2011</text>
<text transform="translate(303.42 2087) rotate(-45) scale(1 1.04)" text-anchor="end" font-size="33.5">2012</text>
<text transform="translate(342.96 2087) rotate(-45) scale(1 1.04)" text-anchor="end" font-size="33.5">2013</text>
<text transform="translate(382.5 2087) rotate(-45) scale(1 1.04)" text-anchor="end" font-size="33.5">2014</text>
<text transform="translate(422.04 2087) rotate(-45) scale(1 1.04)" text-anchor="end" font-size="33.5">2015</text>
<text transform="translate(461.58 2087) rotate(-45) scale(1 1.04)" text-anchor="end" font-size="33.5">2016</text>
<text transform="translate(501.12 2087) rotate(-45) scale(1 1.04)" text-anchor="end" font-size="33.5">2017</text>
<text transform="translate(540.66 2087) rotate(-45) scale(1 1.04)" text-anchor="end" font-size="33.5">2018</text>
<text transform="translate(580.2 2087) rotate(-45) scale(1 1.04)" text-anchor="end" font-size="33.5">2019</text>
<text transform="translate(619.74 2087) rotate(-45) scale(1 1.04)" text-anchor="end" font-size="33.5">2020</text>
<text transform="translate(659.28 2087) rotate(-45) scale(1 1.04)" text-anchor="end" font-size="33.5">2021</text>
<text transform="translate(698.82 2087) rotate(-45) scale(1 1.04)" text-anchor="end" font-size="33.5">2022</text>
<text transform="translate(321 1661.5) scale(1 1.04)" font-size="47">IBV Victoria</text>
<text transform="translate(26 1956.9) rotate(-90) scale(1 1.04)" font-size="33.5">Conservation (%)</text>
<path d="M12.8 1976.2V2016" stroke="#D24E5A" stroke-width="2"/>
<rect x="5.8" y="1989" width="14" height="14" fill="#F23A3C"/>
<text transform="translate(877 1731.8) rotate(90) scale(1 1.04)" font-size="33.5">Sequence counts</text>
<rect x="1230.65" y="2040.3" width="38.7" height="2.2"/>
<rect x="1276.98" y="2032.7" width="38.7" height="9.8"/>
<rect x="1323.31" y="2025.7" width="38.7" height="16.8"/>
<rect x="1369.64" y="2001" width="38.7" height="41.5"/>
<rect x="1415.97" y="1988.6" width="38.7" height="53.9"/>
<rect x="1462.3" y="1989" width="38.7" height="53.5"/>
<rect x="1508.63" y="1929" width="38.7" height="113.5"/>
<rect x="1554.96" y="1933.3" width="38.7" height="109.2"/>
<rect x="1601.29" y="1825.7" width="38.7" height="216.8"/>
<rect x="1647.62" y="1757.6" width="38.7" height="284.9"/>
<rect x="1693.95" y="1991.6" width="38.7" height="50.9"/>
<rect x="1740.28" y="2037" width="38.7" height="5.5"/>
<path d="M1211.8 1697.5V2042.5M1197.8 1697.5H1211.8M1197.8 1870H1211.8M1197.8 2042.5H1211.8M1197.8 2042.5H1807.7M1798.7 1697.5V2042.5M1798.7 2042.5H1807.7M1798.7 1985H1807.7M1798.7 1927.5H1807.7M1798.7 1870H1807.7M1798.7 1812.5H1807.7M1798.7 1755H1807.7M1798.7 1697.5H1807.7M1250 2042.5v14M1296.33 2042.5v14M1342.66 2042.5v14M1388.99 2042.5v14M1435.32 2042.5v14M1481.65 2042.5v14M1527.98 2042.5v14M1574.31 2042.5v14M1620.64 2042.5v14M1666.97 2042.5v14M1713.3 2042.5v14M1759.63 2042.5v14" fill="none" stroke="#000" stroke-width="2"/>
<polyline points="1250,1697.5 1296.33,1697.5 1342.66,1697.5 1388.99,1697.5 1435.32,1697.5 1481.65,1697.5 1527.98,1701.2 1574.31,1697.5 1620.64,1703.4 1666.97,1706.2 1713.3,1697.5 1759.63,1697.5" fill="none" stroke="#D24E5A" stroke-width="2"/>
<rect x="1243" y="1690.5" width="14" height="14" fill="#F23A3C"/>
<rect x="1289.33" y="1690.5" width="14" height="14" fill="#F23A3C"/>
<rect x="1335.66" y="1690.5" width="14" height="14" fill="#F23A3C"/>
<rect x="1381.99" y="1690.5" width="14" height="14" fill="#F23A3C"/>
<rect x="1428.32" y="1690.5" width="14" height="14" fill="#F23A3C"/>
<rect x="1474.65" y="1690.5" width="14" height="14" fill="#F23A3C"/>
<rect x="1520.98" y="1694.2" width="14" height="14" fill="#F23A3C"/>
<rect x="1567.31" y="1690.5" width="14" height="14" fill="#F23A3C"/>
<rect x="1613.64" y="1696.4" width="14" height="14" fill="#F23A3C"/>
<rect x="1659.97" y="1699.2" width="14" height="14" fill="#F23A3C"/>
<rect x="1706.3" y="1690.5" width="14" height="14" fill="#F23A3C"/>
<rect x="1752.63" y="1690.5" width="14" height="14" fill="#F23A3C"/>
<text transform="translate(1194.1 1708.3) scale(1 1.04)" text-anchor="end" font-size="33.5">100.0</text>
<text transform="translate(1194.1 1880.8) scale(1 1.04)" text-anchor="end" font-size="33.5">99.5</text>
<text transform="translate(1194.1 2053.3) scale(1 1.04)" text-anchor="end" font-size="33.5">99.0</text>
<text transform="translate(1816.3 2053.3) scale(1 1.04)" font-size="33.5">0</text>
<text transform="translate(1816.3 1995.8) scale(1 1.04)" font-size="33.5">1000</text>
<text transform="translate(1816.3 1938.3) scale(1 1.04)" font-size="33.5">2000</text>
<text transform="translate(1816.3 1880.8) scale(1 1.04)" font-size="33.5">3000</text>
<text transform="translate(1816.3 1823.3) scale(1 1.04)" font-size="33.5">4000</text>
<text transform="translate(1816.3 1765.8) scale(1 1.04)" font-size="33.5">5000</text>
<text transform="translate(1816.3 1708.3) scale(1 1.04)" font-size="33.5">6000</text>
<text transform="translate(1261.2 2085.5) rotate(-45) scale(1 1.04)" text-anchor="end" font-size="33.5">2009</text>
<text transform="translate(1307.53 2085.5) rotate(-45) scale(1 1.04)" text-anchor="end" font-size="33.5">2010</text>
<text transform="translate(1353.86 2085.5) rotate(-45) scale(1 1.04)" text-anchor="end" font-size="33.5">2011</text>
<text transform="translate(1400.19 2085.5) rotate(-45) scale(1 1.04)" text-anchor="end" font-size="33.5">2012</text>
<text transform="translate(1446.52 2085.5) rotate(-45) scale(1 1.04)" text-anchor="end" font-size="33.5">2013</text>
<text transform="translate(1492.85 2085.5) rotate(-45) scale(1 1.04)" text-anchor="end" font-size="33.5">2014</text>
<text transform="translate(1539.18 2085.5) rotate(-45) scale(1 1.04)" text-anchor="end" font-size="33.5">2015</text>
<text transform="translate(1585.51 2085.5) rotate(-45) scale(1 1.04)" text-anchor="end" font-size="33.5">2016</text>
<text transform="translate(1631.84 2085.5) rotate(-45) scale(1 1.04)" text-anchor="end" font-size="33.5">2017</text>
<text transform="translate(1678.17 2085.5) rotate(-45) scale(1 1.04)" text-anchor="end" font-size="33.5">2018</text>
<text transform="translate(1724.5 2085.5) rotate(-45) scale(1 1.04)" text-anchor="end" font-size="33.5">2019</text>
<text transform="translate(1770.83 2085.5) rotate(-45) scale(1 1.04)" text-anchor="end" font-size="33.5">2020</text>
<text transform="translate(1375.3 1663.7) scale(1 1.04)" font-size="42.5">IBV Yamagata</text>
<text transform="translate(1095 1957.9) rotate(-90) scale(1 1.04)" font-size="33.5">Conservation (%)</text>
<path d="M1080.9 1978.4V2018.2" stroke="#D24E5A" stroke-width="2"/>
<rect x="1073.9" y="1992.3" width="14" height="14" fill="#F23A3C"/>
<text transform="translate(1936 1729.2) rotate(90) scale(1 1.04)" font-size="33.5">Sequence counts</text>
</svg>
</body></html>
